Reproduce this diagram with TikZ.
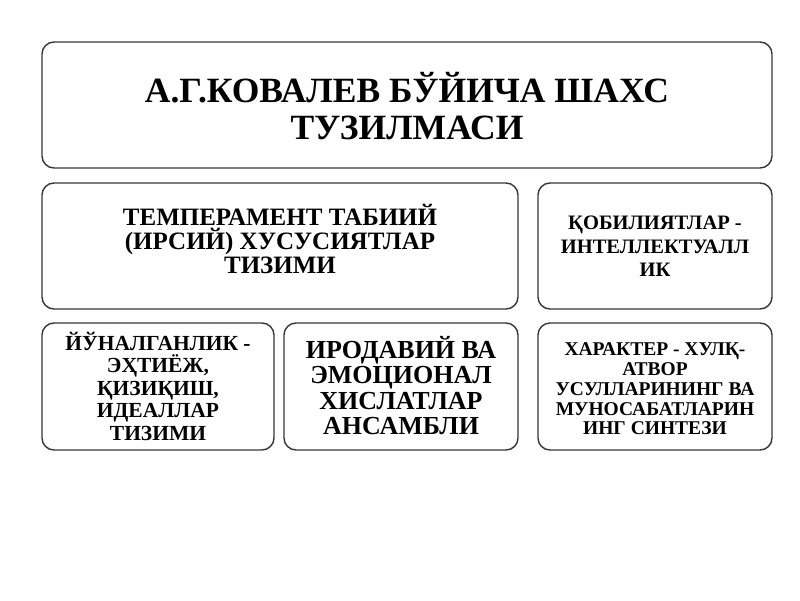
\documentclass[tikz,border=0pt]{standalone}
\usepackage{fontspec}
\setmainfont{Liberation Serif}
\begin{document}
\begin{tikzpicture}[x=1pt,y=-1pt,
  box/.style={draw=black!78,line width=1.4pt,rounded corners=12pt,fill=white,inner sep=0pt},
  label/.style={align=center,inner sep=0pt,text=black},
]
\useasboundingbox (0,0) rectangle (800,600);
\fill[white] (0,0) rectangle (800,600);
\node[box,minimum width=730pt,minimum height=126pt] (title) at (407,105) {};
\node[label,font=\bfseries\fontsize{35.5}{37}\selectfont] (titlet) at (407,106.5) {А.Г.КОВАЛЕВ БЎЙИЧА ШАХС\\ТУЗИЛМАСИ};
\node[box,minimum width=476pt,minimum height=126pt] (temp) at (280,246) {};
\node[label,font=\bfseries\fontsize{25}{24}\selectfont] (tempt) at (280,239) {ТЕМПЕРАМЕНТ ТАБИИЙ\\(ИРСИЙ) ХУСУСИЯТЛАР\\ТИЗИМИ};
\node[box,minimum width=234pt,minimum height=126pt] (qob) at (655,246) {};
\node[label,font=\bfseries\fontsize{20.5}{23.3}\selectfont] (qobt) at (655,246.5) {ҚОБИЛИЯТЛАР -\\ИНТЕЛЛЕКТУАЛЛ\\ИК};
\node[box,minimum width=232pt,minimum height=127pt] (yon) at (158,386.5) {};
\node[label,font=\bfseries\fontsize{21.5}{22.5}\selectfont] (yont) at (158,386) {ЙЎНАЛГАНЛИК -\\ЭҲТИЁЖ,\\ҚИЗИҚИШ,\\ИДЕАЛЛАР\\ТИЗИМИ};
\node[box,minimum width=234pt,minimum height=127pt] (irod) at (401,386.5) {};
\node[label,font=\bfseries\fontsize{26}{25.5}\selectfont] (irodt) at (401,385.5) {ИРОДАВИЙ ВА\\ЭМОЦИОНАЛ\\ХИСЛАТЛАР\\АНСАМБЛИ};
\node[box,minimum width=234pt,minimum height=127pt] (xar) at (655,386.5) {};
\node[label,font=\bfseries\fontsize{19.5}{19.8}\selectfont] (xart) at (655,389) {ХАРАКТЕР - ХУЛҚ-\\АТВОР\\УСУЛЛАРИНИНГ ВА\\МУНОСАБАТЛАРИН\\ИНГ СИНТЕЗИ};
\end{tikzpicture}
\end{document}
